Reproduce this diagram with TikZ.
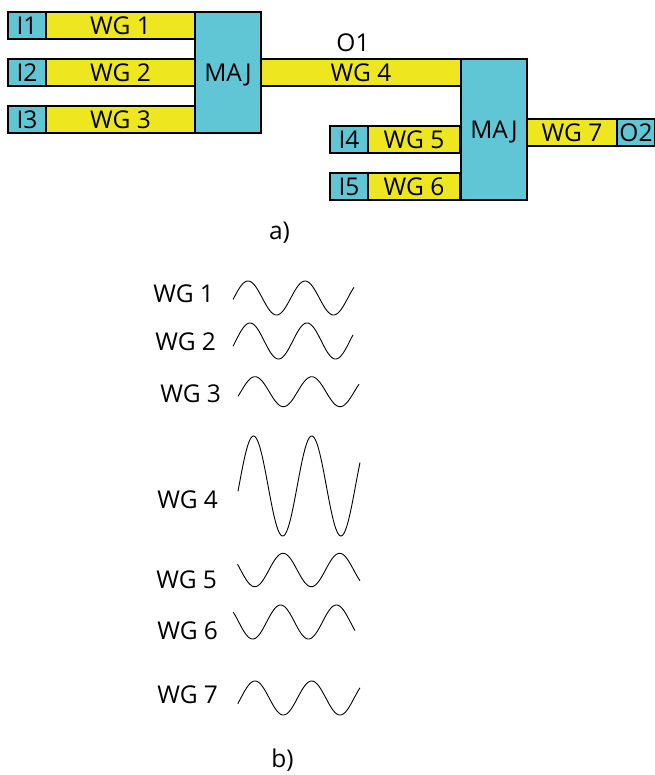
\documentclass[tikz,border=0pt]{standalone}
\usepackage{fontspec}
\setmainfont{Open Sans}
\usetikzlibrary{positioning}

\definecolor{gatecyan}{RGB}{96,198,214}
\definecolor{wgyellow}{RGB}{238,231,32}

\begin{document}
\begin{tikzpicture}
	  [x=1pt, y=-1pt,
	  %
	  every node/.style={font=\fontsize{24.5}{27}\selectfont, text height=17.5pt, text depth=0pt, inner sep=0pt, outer sep=0pt},
	  %
	  gatebox/.style={rectangle, draw, line width=1.2pt, fill=gatecyan, minimum height=27pt, minimum width=38pt},
	  %
	  wgbox/.style={rectangle, draw, line width=1.2pt, fill=wgyellow, minimum height=27pt},
	  %
	  majbox/.style={rectangle, draw, line width=1.2pt, fill=gatecyan, minimum width=66pt, anchor=north west},
	  %
	  wglabel/.style={anchor=east},
	  %
	  wave/.style={line width=0.9pt, smooth, samples=120}]

	    \useasboundingbox (0,0) rectangle (654,775);

	    % a) majority gate network
	    \node [gatebox, anchor=north west] (i1) at (8,12) {I1};
	    \node [wgbox, minimum width=149pt, right=0pt of i1] (wg1) {WG 1};
	    \node [gatebox, anchor=north west] (i2) at (8,59) {I2};
	    \node [wgbox, minimum width=149pt, right=0pt of i2] (wg2) {WG 2};
	    \node [gatebox, anchor=north west] (i3) at (8,106) {I3};
	    \node [wgbox, minimum width=149pt, right=0pt of i3] (wg3) {WG 3};
	    \node [majbox, minimum height=121pt] (maj1) at (wg1.north east) {MAJ};

	    \node [wgbox, minimum width=200pt, anchor=north west] (wg4) at (maj1.east |- wg2.north) {WG 4};
	    \node [above=7pt of wg4, xshift=-8pt] (o1) {O1};
	    \node [majbox, minimum height=141pt] (maj2) at (wg4.north east) {MAJ};

	    \node [gatebox, anchor=north west] (i4) at (330,126) {I4};
	    \node [wgbox, minimum width=92pt, right=0pt of i4] (wg5) {WG 5};
	    \node [gatebox, anchor=north west] (i5) at (330,173) {I5};
	    \node [wgbox, minimum width=92pt, right=0pt of i5] (wg6) {WG 6};

	    \node [wgbox, minimum width=90pt, anchor=north west] (wg7) at (527,119) {WG 7};
	    \node [gatebox, right=0pt of wg7] (o2) {O2};

	    \node [anchor=base] (capa) at (279.5,240) {a)};

	    % b) signals in the waveguides
	    \node [wglabel] (sig1) at (214,293.5) {WG 1};
	    \node [wglabel] (sig2) at (216,342) {WG 2};
	    \node [wglabel] (sig3) at (221,394) {WG 3};
	    \node [wglabel] (sig4) at (218,500) {WG 4};
	    \node [wglabel] (sig5) at (217,580) {WG 5};
	    \node [wglabel] (sig6) at (218,631) {WG 6};
	    \node [wglabel] (sig7) at (218,695) {WG 7};

	    \draw [wave] plot [domain=-5:759] ({233+(\x+5)/764*121}, {298-17*sin(\x)});
	    \draw [wave] plot [domain=-17:740] ({233+(\x+17)/757*120}, {341-18*sin(\x)});
	    \draw [wave] plot [domain=-18:750] ({238+(\x+18)/768*121}, {391.7-15*sin(\x)});
	    \draw [wave] plot [domain=-6:748] ({238+(\x+6)/754*122}, {486-50*sin(\x)});
	    \draw [wave] plot [domain=160:940] ({237.5+(\x-160)/780*122.5}, {570-16.7*sin(\x)});
	    \draw [wave] plot [domain=145:930] ({233.3+(\x-145)/785*121.7}, {622-17*sin(\x)});
	    \draw [wave] plot [domain=-20:757] ({237.7+(\x+20)/777*122.3}, {698-17*sin(\x)});

	    \node [anchor=base] (capb) at (282.5,767) {b)};
	  \end{tikzpicture}
\end{document}
